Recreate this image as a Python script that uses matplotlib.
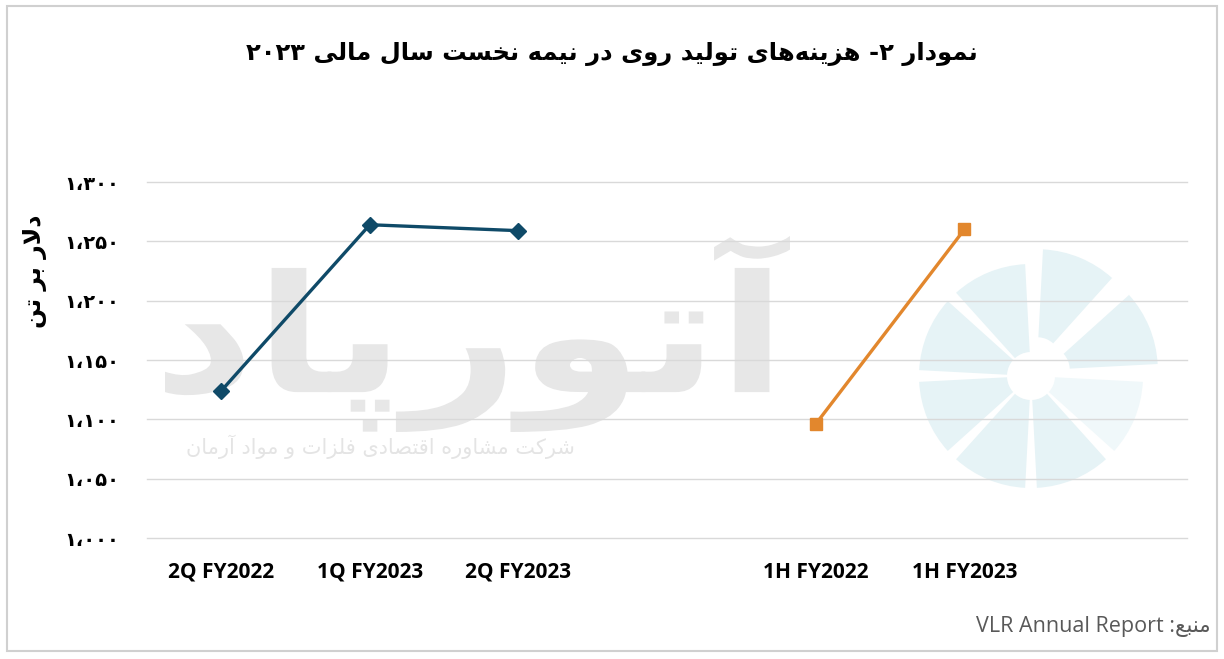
import math
import matplotlib
matplotlib.use("Agg")
import matplotlib.pyplot as plt
from matplotlib.ticker import FuncFormatter, MultipleLocator
from matplotlib.patches import Rectangle, Wedge, PathPatch
from matplotlib.textpath import TextPath
from matplotlib.font_manager import FontProperties
from matplotlib.transforms import Affine2D

# داده‌ها
quarter_labels = ["2Q FY2022", "1Q FY2023", "2Q FY2023"]
quarter_cost = [1124, 1264, 1259]
half_labels = ["1H FY2022", "1H FY2023"]
half_cost = [1096, 1260]

title_text = "نمودار ۲- هزینه\u200cهای تولید روی در نیمه نخست سال مالی ۲۰۲۳"
ylabel_text = "دلار بر تن"
source_label = "منبع"
source_text = "VLR Annual Report"
wm_big = "آتورپاد"
wm_small = "شرکت مشاوره اقتصادی فلزات و مواد آرمان"

# شکل‌دهی ساده حروف فارسی (matplotlib خودش این کار را نمی‌کند)
FORMS = {
    "ا": ("\uFE8D", "\uFE8E", None, None),
    "آ": ("\uFE81", "\uFE82", None, None),
    "ب": ("\uFE8F", "\uFE90", "\uFE91", "\uFE92"),
    "پ": ("\uFB56", "\uFB57", "\uFB58", "\uFB59"),
    "ت": ("\uFE95", "\uFE96", "\uFE97", "\uFE98"),
    "خ": ("\uFEA5", "\uFEA6", "\uFEA7", "\uFEA8"),
    "د": ("\uFEA9", "\uFEAA", None, None),
    "ر": ("\uFEAD", "\uFEAE", None, None),
    "ز": ("\uFEAF", "\uFEB0", None, None),
    "س": ("\uFEB1", "\uFEB2", "\uFEB3", "\uFEB4"),
    "ش": ("\uFEB5", "\uFEB6", "\uFEB7", "\uFEB8"),
    "ص": ("\uFEB9", "\uFEBA", "\uFEBB", "\uFEBC"),
    "ع": ("\uFEC9", "\uFECA", "\uFECB", "\uFECC"),
    "ف": ("\uFED1", "\uFED2", "\uFED3", "\uFED4"),
    "ق": ("\uFED5", "\uFED6", "\uFED7", "\uFED8"),
    "ک": ("\uFB8E", "\uFB8F", "\uFB90", "\uFB91"),
    "ل": ("\uFEDD", "\uFEDE", "\uFEDF", "\uFEE0"),
    "م": ("\uFEE1", "\uFEE2", "\uFEE3", "\uFEE4"),
    "ن": ("\uFEE5", "\uFEE6", "\uFEE7", "\uFEE8"),
    "ه": ("\uFEE9", "\uFEEA", "\uFEEB", "\uFEEC"),
    "و": ("\uFEED", "\uFEEE", None, None),
    "ی": ("\uFEEF", "\uFEF0", "\uFEF3", "\uFEF4"),
}
DIGITS = "۰۱۲۳۴۵۶۷۸۹"


def shape_word(w):
    chars = list(w)
    out = []
    i = 0
    prev_joins = False
    while i < len(chars):
        c = chars[i]
        if c not in FORMS:
            if c != "\u200c":
                out.append(c)
            prev_joins = False
            i += 1
            continue
        # لا
        if c == "ل" and i + 1 < len(chars) and chars[i + 1] == "ا":
            out.append("\uFEFC" if prev_joins else "\uFEFB")
            prev_joins = False
            i += 2
            continue
        nxt = chars[i + 1] if i + 1 < len(chars) else None
        f = FORMS[c]
        can_next = f[2] is not None and nxt in FORMS
        if prev_joins and can_next:
            out.append(f[3])
        elif prev_joins:
            out.append(f[1])
        elif can_next:
            out.append(f[2])
        else:
            out.append(f[0])
        prev_joins = can_next
        i += 1
    return "".join(out)


def rtl(text):
    toks = []
    for t in text.split(" "):
        if all(ch in DIGITS for ch in t):
            toks.append(t)
        else:
            toks.append(shape_word(t)[::-1])
    return " ".join(toks[::-1])


def fa_num(v, pos=None):
    s = f"{int(round(v)):,}".replace(",", "،")
    return "".join(DIGITS[int(ch)] if ch.isdigit() else ch for ch in s)


fig = plt.figure(figsize=(12.24, 6.59), dpi=100)

# لوگوی کم‌رنگ پس‌زمینه (واترمارک) - محور پیکسلی
wm = fig.add_axes([0, 0, 1, 1], zorder=0)
wm.set_xlim(0, 1224)
wm.set_ylim(659, 0)
wm.axis("off")
cx, cy, r = 1031, 376, 112
for k in range(8):
    a0 = k * 45 + 3
    a1 = (k + 1) * 45 - 3
    dx = dy = 0
    if k in (0, 1):
        mid = math.radians((a0 + a1) / 2)
        dx, dy = 16 * math.cos(mid), -16 * math.sin(mid)
    col = "#f0f8fa" if k == 7 else "#e6f3f6"
    wm.add_patch(Wedge((cx + dx, cy + dy), r, -a1, -a0, width=r - 24,
                       facecolor=col, edgecolor="none"))

# متن بزرگ واترمارک، کشیده در جعبه مورد نظر
tp = TextPath((0, 0), rtl(wm_big), size=100,
              prop=FontProperties(family="DejaVu Sans", weight="bold"))
ext = tp.get_extents()
bx0, bx1, by0, by1 = 165, 790, 236, 432
sx = (bx1 - bx0) / ext.width
sy = (by1 - by0) / ext.height
tr = Affine2D().translate(-ext.x0, -ext.y0).scale(sx, -sy).translate(bx0, by1)
wm.add_patch(PathPatch(tr.transform_path(tp), facecolor="#e7e7e7", edgecolor="none"))
wm.text(380, 447, rtl(wm_small), ha="center", va="center", fontsize=15,
        color="#e4e4e4", family="DejaVu Sans")

ax = fig.add_axes([0.120, 0.1836, 0.850, 0.5402], zorder=2)
ax.patch.set_alpha(0)

# جایگاه‌ها: سه فصل، یک جای خالی، دو نیمه
x_q = list(range(len(quarter_labels)))
x_h = [len(quarter_labels) + 1 + i for i in range(len(half_labels))]

ax.plot(x_q, quarter_cost, color="#0f4a68", lw=2.4, marker="D", ms=8, zorder=3)
ax.plot(x_h, half_cost, color="#e2872d", lw=2.4, marker="s", ms=9, zorder=3)

ax.set_xlim(-0.5, 6.5)
ax.set_ylim(1000, 1300)
ax.yaxis.set_major_locator(MultipleLocator(50))
ax.yaxis.set_major_formatter(FuncFormatter(fa_num))
ax.set_xticks(x_q + x_h)
ax.set_xticklabels(quarter_labels + half_labels, fontsize=15, fontweight="bold",
                   family=["Open Sans", "DejaVu Sans"])
for lab in ax.get_yticklabels():
    lab.set_fontweight("bold")
    lab.set_fontsize(14)
ax.tick_params(axis="both", length=0)
ax.tick_params(axis="x", pad=17)
ax.tick_params(axis="y", pad=20)
ax.grid(axis="y", color="#d9d9d9", lw=1)
for gl in ax.get_ygridlines():
    gl.set_clip_on(False)
ax.set_axisbelow(True)
for s in ax.spines.values():
    s.set_visible(False)

fig.text(0.5, 0.918, rtl(title_text), ha="center", va="center", fontsize=17.5,
         fontweight="bold", family="DejaVu Sans")
fig.text(0.029, 0.588, rtl(ylabel_text), ha="center", va="center", rotation=90,
         fontsize=17, fontweight="bold", family="DejaVu Sans")
fig.text(0.989, 0.049, source_text + " :" + shape_word(source_label)[::-1],
         ha="right", va="center", fontsize=15.5, color="#595959",
         family=["Open Sans", "DejaVu Sans"])

fig.patches.append(Rectangle((0.006, 0.012), 0.988, 0.979, transform=fig.transFigure,
                             fill=False, edgecolor="#d0d0d0", lw=1.5))

fig.savefig("out.png", dpi=100, facecolor="white")
